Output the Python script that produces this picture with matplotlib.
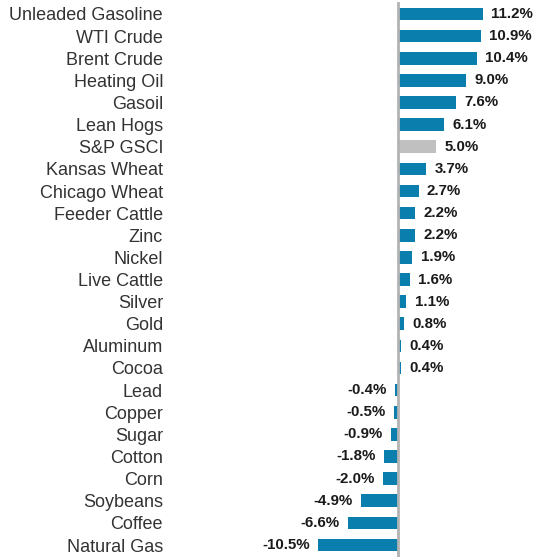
import matplotlib.pyplot as plt

plt.rcParams['font.family'] = ['Liberation Sans', 'DejaVu Sans']

NAMES = [
    'Unleaded Gasoline', 'WTI Crude', 'Brent Crude', 'Heating Oil', 'Gasoil',
    'Lean Hogs', 'S&P GSCI', 'Kansas Wheat', 'Chicago Wheat', 'Feeder Cattle',
    'Zinc', 'Nickel', 'Live Cattle', 'Silver', 'Gold', 'Aluminum', 'Cocoa',
    'Lead', 'Copper', 'Sugar', 'Cotton', 'Corn', 'Soybeans', 'Coffee',
    'Natural Gas'
]
VALUES = [
    11.2, 10.9, 10.4, 9.0, 7.6, 6.1, 5.0, 3.7, 2.7, 2.2, 2.2, 1.9, 1.6, 1.1,
    0.8, 0.4, 0.4, -0.4, -0.5, -0.9, -1.8, -2.0, -4.9, -6.6, -10.5
]
INDEX = 'S&P GSCI'

BLUE = '#0a7fad'
GREY = '#c0c0c0'

W, H = 534, 557
fig = plt.figure(figsize=(W / 100, H / 100), dpi=100)

# axes spans from x=170px to the right edge, zero sits at ~398px
left = 170
ax = fig.add_axes([left / W, 0, 1 - left / W, 1])
scale = 7.6  # px per percent
ax.set_xlim(-(398 - left) / scale, (W - 398) / scale)

n = len(NAMES)
step = (545 - 14) / (n - 1)
ax.set_ylim((H - 14) / step, -14 / step)

ys = list(range(n))
colors = [GREY if name == INDEX else BLUE for name in NAMES]
ax.barh(ys, VALUES, height=0.57, color=colors, zorder=2)

ax.axvline(0, ymin=0, ymax=1 - 3 / H, color='#b3b3b3', linewidth=2, zorder=3)

for y, v in zip(ys, VALUES):
    if v >= 0:
        ax.annotate(f'{v:.1f}%', (v, y), xytext=(6, 0),
                    textcoords='offset points', ha='left', va='center',
                    fontsize=10.8, fontweight='bold', color='#1a1a1a')
    else:
        ax.annotate(f'{v:.1f}%', (v, y), xytext=(-6, 0),
                    textcoords='offset points', ha='right', va='center',
                    fontsize=10.8, fontweight='bold', color='#1a1a1a')

ax.set_yticks(ys)
ax.set_yticklabels(NAMES, fontsize=13, color='#333333')
ax.tick_params(axis='y', length=0, pad=5)
ax.set_xticks([])
for s in ax.spines.values():
    s.set_visible(False)

fig.savefig('out.png', dpi=100)
